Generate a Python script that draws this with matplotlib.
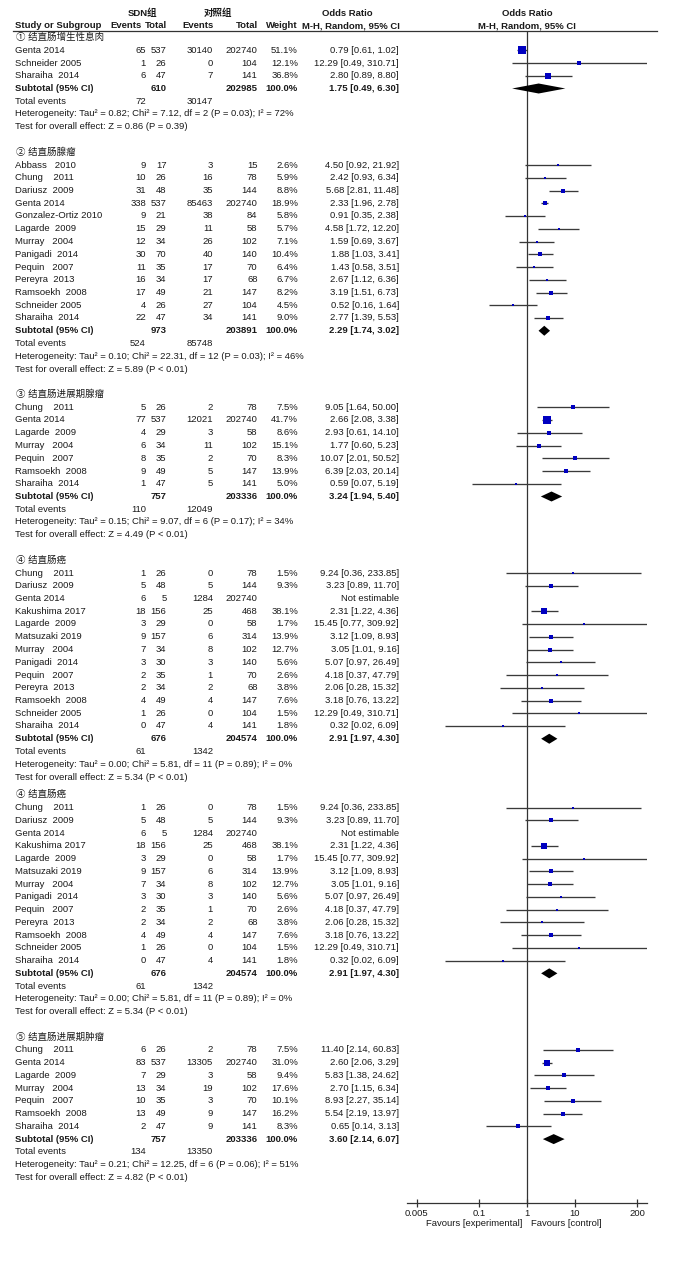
import matplotlib
matplotlib.use("Agg")
import matplotlib.pyplot as plt
import numpy as np

plt.rcParams['font.family'] = ['Liberation Sans', 'Noto Sans CJK SC', 'DejaVu Sans']

# ---- data ----
sec1_title = "① 结直肠增生性息肉"
sec1_study = ["Genta 2014", "Schneider 2005", "Sharaiha  2014"]
sec1_e1 = ["65", "1", "6"]
sec1_n1 = ["537", "26", "47"]
sec1_e2 = ["30140", "0", "7"]
sec1_n2 = ["202740", "104", "141"]
sec1_w = [51.1, 12.1, 36.8]
sec1_or = [0.79, 12.29, 2.80]
sec1_lo = [0.61, 0.49, 0.89]
sec1_hi = [1.02, 310.71, 8.80]
sec1_sub = ["610", "202985", 1.75, 0.49, 6.30]
sec1_tot = ["72", "30147"]
sec1_het = "Heterogeneity: Tau² = 0.82; Chi² = 7.12, df = 2 (P = 0.03); I² = 72%"
sec1_z = "Test for overall effect: Z = 0.86 (P = 0.39)"

sec2_title = "② 结直肠腺瘤"
sec2_study = ["Abbass   2010", "Chung    2011", "Dariusz  2009", "Genta 2014", "Gonzalez-Ortiz 2010",
              "Lagarde  2009", "Murray   2004", "Panigadi  2014", "Pequin   2007", "Pereyra  2013",
              "Ramsoekh  2008", "Schneider 2005", "Sharaiha  2014"]
sec2_e1 = ["9", "10", "31", "338", "9", "15", "12", "30", "11", "16", "17", "4", "22"]
sec2_n1 = ["17", "26", "48", "537", "21", "29", "34", "70", "35", "34", "49", "26", "47"]
sec2_e2 = ["3", "16", "35", "85463", "38", "11", "26", "40", "17", "17", "21", "27", "34"]
sec2_n2 = ["15", "78", "144", "202740", "84", "58", "102", "140", "70", "68", "147", "104", "141"]
sec2_w = [2.6, 5.9, 8.8, 18.9, 5.8, 5.7, 7.1, 10.4, 6.4, 6.7, 8.2, 4.5, 9.0]
sec2_or = [4.50, 2.42, 5.68, 2.33, 0.91, 4.58, 1.59, 1.88, 1.43, 2.67, 3.19, 0.52, 2.77]
sec2_lo = [0.92, 0.93, 2.81, 1.96, 0.35, 1.72, 0.69, 1.03, 0.58, 1.12, 1.51, 0.16, 1.39]
sec2_hi = [21.92, 6.34, 11.48, 2.78, 2.38, 12.20, 3.67, 3.41, 3.51, 6.36, 6.73, 1.64, 5.53]
sec2_sub = ["973", "203891", 2.29, 1.74, 3.02]
sec2_tot = ["524", "85748"]
sec2_het = "Heterogeneity: Tau² = 0.10; Chi² = 22.31, df = 12 (P = 0.03); I² = 46%"
sec2_z = "Test for overall effect: Z = 5.89 (P < 0.01)"

sec3_title = "③ 结直肠进展期腺瘤"
sec3_study = ["Chung    2011", "Genta 2014", "Lagarde  2009", "Murray   2004", "Pequin   2007",
              "Ramsoekh  2008", "Sharaiha  2014"]
sec3_e1 = ["5", "77", "4", "6", "8", "9", "1"]
sec3_n1 = ["26", "537", "29", "34", "35", "49", "47"]
sec3_e2 = ["2", "12021", "3", "11", "2", "5", "5"]
sec3_n2 = ["78", "202740", "58", "102", "70", "147", "141"]
sec3_w = [7.5, 41.7, 8.6, 15.1, 8.3, 13.9, 5.0]
sec3_or = [9.05, 2.66, 2.93, 1.77, 10.07, 6.39, 0.59]
sec3_lo = [1.64, 2.08, 0.61, 0.60, 2.01, 2.03, 0.07]
sec3_hi = [50.00, 3.38, 14.10, 5.23, 50.52, 20.14, 5.19]
sec3_sub = ["757", "203336", 3.24, 1.94, 5.40]
sec3_tot = ["110", "12049"]
sec3_het = "Heterogeneity: Tau² = 0.15; Chi² = 9.07, df = 6 (P = 0.17); I² = 34%"
sec3_z = "Test for overall effect: Z = 4.49 (P < 0.01)"

sec4_title = "④ 结直肠癌"
sec4_study = ["Chung    2011", "Dariusz  2009", "Genta 2014", "Kakushima 2017", "Lagarde  2009",
              "Matsuzaki 2019", "Murray   2004", "Panigadi  2014", "Pequin   2007", "Pereyra  2013",
              "Ramsoekh  2008", "Schneider 2005", "Sharaiha  2014"]
sec4_e1 = ["1", "5", "6", "18", "3", "9", "7", "3", "2", "2", "4", "1", "0"]
sec4_n1 = ["26", "48", "5", "156", "29", "157", "34", "30", "35", "34", "49", "26", "47"]
sec4_e2 = ["0", "5", "1284", "25", "0", "6", "8", "3", "1", "2", "4", "0", "4"]
sec4_n2 = ["78", "144", "202740", "468", "58", "314", "102", "140", "70", "68", "147", "104", "141"]
sec4_w = [1.5, 9.3, None, 38.1, 1.7, 13.9, 12.7, 5.6, 2.6, 3.8, 7.6, 1.5, 1.8]
sec4_or = [9.24, 3.23, None, 2.31, 15.45, 3.12, 3.05, 5.07, 4.18, 2.06, 3.18, 12.29, 0.32]
sec4_lo = [0.36, 0.89, None, 1.22, 0.77, 1.09, 1.01, 0.97, 0.37, 0.28, 0.76, 0.49, 0.02]
sec4_hi = [233.85, 11.70, None, 4.36, 309.92, 8.93, 9.16, 26.49, 47.79, 15.32, 13.22, 310.71, 6.09]
sec4_sub = ["676", "204574", 2.91, 1.97, 4.30]
sec4_tot = ["61", "1342"]
sec4_het = "Heterogeneity: Tau² = 0.00; Chi² = 5.81, df = 11 (P = 0.89); I² = 0%"
sec4_z = "Test for overall effect: Z = 5.34 (P < 0.01)"

sec5_title = "⑤ 结直肠进展期肿瘤"
sec5_study = ["Chung    2011", "Genta 2014", "Lagarde  2009", "Murray   2004", "Pequin   2007",
              "Ramsoekh  2008", "Sharaiha  2014"]
sec5_e1 = ["6", "83", "7", "13", "10", "13", "2"]
sec5_n1 = ["26", "537", "29", "34", "35", "49", "47"]
sec5_e2 = ["2", "13305", "3", "19", "3", "9", "9"]
sec5_n2 = ["78", "202740", "58", "102", "70", "147", "141"]
sec5_w = [7.5, 31.0, 9.4, 17.6, 10.1, 16.2, 8.3]
sec5_or = [11.40, 2.60, 5.83, 2.70, 8.93, 5.54, 0.65]
sec5_lo = [2.14, 2.06, 1.38, 1.15, 2.27, 2.19, 0.14]
sec5_hi = [60.83, 3.29, 24.62, 6.34, 35.14, 13.97, 3.13]
sec5_sub = ["757", "203336", 3.60, 2.14, 6.07]
sec5_tot = ["134", "13350"]
sec5_het = "Heterogeneity: Tau² = 0.21; Chi² = 12.25, df = 6 (P = 0.06); I² = 51%"
sec5_z = "Test for overall effect: Z = 4.82 (P < 0.01)"

x_ticks = [0.005, 0.1, 1, 10, 200]
x_ticklabels = ["0.005", "0.1", "1", "10", "200"]

sections = [
    (sec1_title, sec1_study, sec1_e1, sec1_n1, sec1_e2, sec1_n2, sec1_w, sec1_or, sec1_lo, sec1_hi,
     sec1_sub, sec1_tot, sec1_het, sec1_z),
    (sec2_title, sec2_study, sec2_e1, sec2_n1, sec2_e2, sec2_n2, sec2_w, sec2_or, sec2_lo, sec2_hi,
     sec2_sub, sec2_tot, sec2_het, sec2_z),
    (sec3_title, sec3_study, sec3_e1, sec3_n1, sec3_e2, sec3_n2, sec3_w, sec3_or, sec3_lo, sec3_hi,
     sec3_sub, sec3_tot, sec3_het, sec3_z),
    (sec4_title, sec4_study, sec4_e1, sec4_n1, sec4_e2, sec4_n2, sec4_w, sec4_or, sec4_lo, sec4_hi,
     sec4_sub, sec4_tot, sec4_het, sec4_z),
    # the subgroup is printed twice in the source figure
    (sec4_title, sec4_study, sec4_e1, sec4_n1, sec4_e2, sec4_n2, sec4_w, sec4_or, sec4_lo, sec4_hi,
     sec4_sub, sec4_tot, sec4_het, sec4_z),
    (sec5_title, sec5_study, sec5_e1, sec5_n1, sec5_e2, sec5_n2, sec5_w, sec5_or, sec5_lo, sec5_hi,
     sec5_sub, sec5_tot, sec5_het, sec5_z),
]
gaps_after = [2.0, 2.0, 2.0, 1.4, 2.0, 0]

# ---- layout (pixel units, origin top-left) ----
W, H = 692, 1274
ROW = 12.75
FS = 6.8
TXT = "#1a1a1a"
col_e1, col_n1, col_e2, col_n2, col_w, col_ci = 146, 166.5, 213, 257.5, 298, 399
plot_l, plot_r = 407, 647
line_y, axis_y = 30.7, 1203

fig = plt.figure(figsize=(W / 100, H / 100), dpi=100)
tab = fig.add_axes([0, 0, 1, 1])
tab.set_xlim(0, W)
tab.set_ylim(H, 0)
tab.axis("off")

fp = fig.add_axes([plot_l / W, (H - axis_y) / H, (plot_r - plot_l) / W, (axis_y - line_y) / H])
fp.patch.set_visible(False)
fp.set_xscale("log")
fp.set_xlim(10 ** -2.5, 10 ** 2.5)
fp.set_ylim(axis_y, line_y)


def t(x, y, s, ha="left", bold=False):
    tab.text(x, y, s, ha=ha, va="center", fontsize=FS, color=TXT,
             fontweight="bold" if bold else "normal")


# header
t(143, 13, "SDN组", ha="center", bold=True)
t(218, 13, "对照组", ha="center", bold=True)
t(347, 13, "Odds Ratio", ha="center", bold=True)
t(527, 13, "Odds Ratio", ha="center", bold=True)
t(15, 26, "Study or Subgroup", bold=True)
t(142, 26, "Events", ha="right", bold=True)
t(col_n1 + 0.5, 26, "Total", ha="right", bold=True)
t(col_e2 + 1, 26, "Events", ha="right", bold=True)
t(col_n2, 26, "Total", ha="right", bold=True)
t(col_w, 26, "Weight", ha="right", bold=True)
t(col_ci + 1, 26, "M-H, Random, 95% CI", ha="right", bold=True)
t(527, 26, "M-H, Random, 95% CI", ha="center", bold=True)
tab.plot([13, 657], [line_y, line_y], color="#333333", lw=0.9)

y = 37.5
for sec, gap in zip(sections, gaps_after):
    (title, study, e1, n1, e2, n2, w, orr, lo, hi, sub, tot, het, z) = sec
    t(16, y, title)
    for i in range(len(study)):
        y += ROW
        t(15, y, study[i])
        t(col_e1, y, e1[i], ha="right")
        t(col_n1, y, n1[i], ha="right")
        t(col_e2, y, e2[i], ha="right")
        t(col_n2, y, n2[i], ha="right")
        if orr[i] is None:
            t(col_ci, y, "Not estimable", ha="right")
            continue
        t(col_w, y, f"{w[i]:.1f}%", ha="right")
        t(col_ci, y, f"{orr[i]:.2f} [{lo[i]:.2f}, {hi[i]:.2f}]", ha="right")
        fp.plot([lo[i], hi[i]], [y, y], color="#3a3a3a", lw=0.95, solid_capstyle="butt", zorder=2)
        side = max(1.12 * np.sqrt(w[i]), 2.6) * 0.72
        fp.scatter([orr[i]], [y], marker="s", s=side ** 2, color="#0000c0", lw=0, zorder=3)
    y += ROW
    t(15, y, "Subtotal (95% CI)", bold=True)
    t(col_n1, y, sub[0], ha="right", bold=True)
    t(col_n2, y, sub[1], ha="right", bold=True)
    t(col_w, y, "100.0%", ha="right", bold=True)
    t(col_ci, y, f"{sub[2]:.2f} [{sub[3]:.2f}, {sub[4]:.2f}]", ha="right", bold=True)
    fp.fill([sub[3], sub[2], sub[4], sub[2]], [y, y - 5, y, y + 5], color="black", lw=0, zorder=3)
    y += ROW
    t(15, y, "Total events")
    t(col_e1, y, tot[0], ha="right")
    t(col_e2, y, tot[1], ha="right")
    y += ROW
    t(15, y, het)
    y += ROW
    t(15, y, z)
    y += gap * ROW

fp.axvline(1, color="#333333", lw=0.9, zorder=1)
for s in ["top", "left", "right"]:
    fp.spines[s].set_visible(False)
fp.spines["bottom"].set_color("#333333")
fp.spines["bottom"].set_linewidth(0.9)
fp.set_yticks([])
fp.set_xticks(x_ticks)
fp.set_xticklabels(x_ticklabels)
fp.minorticks_off()
fp.tick_params(axis="x", direction="inout", length=6, width=0.9, pad=1.5, labelsize=FS,
               colors="#333333", labelcolor=TXT)

t(522, 1224, "Favours [experimental]", ha="right")
t(531, 1224, "Favours [control]")

fig.savefig("out.png", dpi=100)
